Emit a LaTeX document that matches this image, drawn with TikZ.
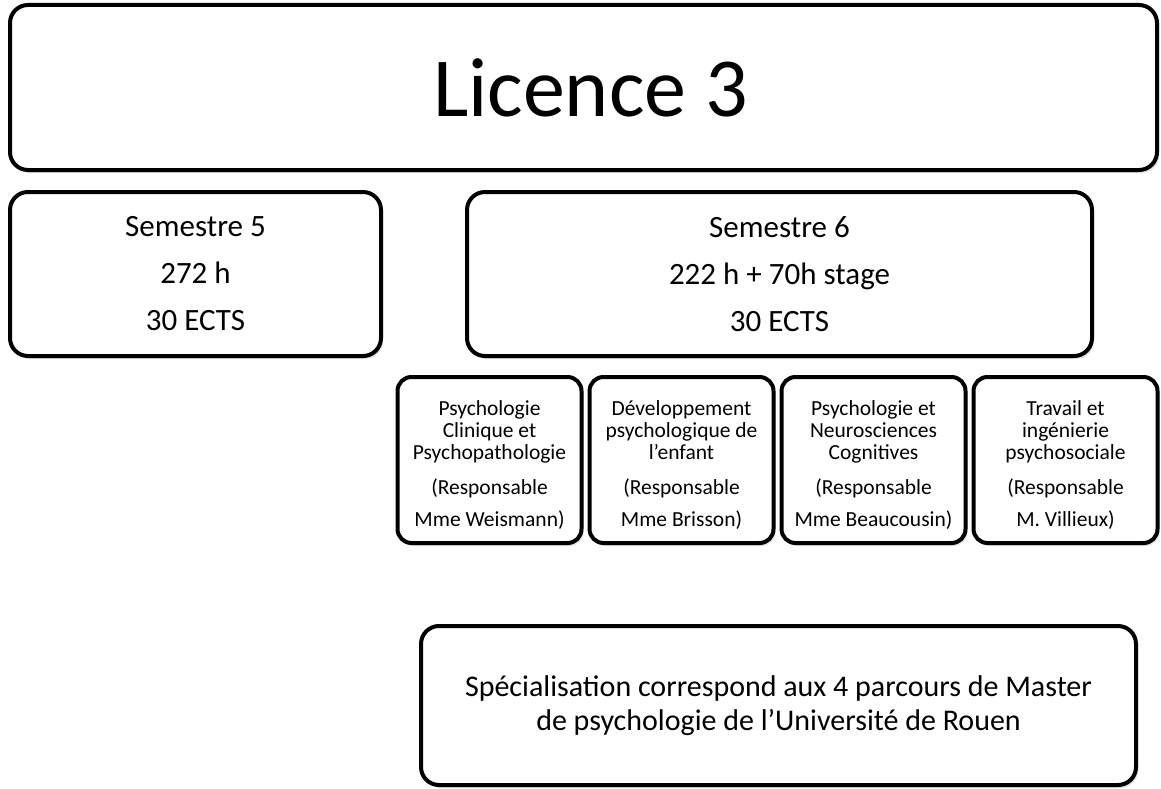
\documentclass[tikz,border=0pt]{standalone}
\usepackage{fontspec}
\setmainfont{Carlito}
\usepackage{tikz}
\usetikzlibrary{positioning}
\usetikzlibrary{shadows}
\tikzset{main node/.style={rectangle,rounded corners=18pt,draw,line width=4pt,fill=white,align=center,inner sep=0pt,drop shadow={shadow xshift=2pt,shadow yshift=-3pt,opacity=0.25}},}
\tikzset{track node/.style={main node,rounded corners=14pt,minimum width=184pt,minimum height=166pt,font=\fontsize{21.5}{22}\selectfont},}

\begin{document}
\begin{tikzpicture}[x=1pt, y=-1pt, node distance=4pt]
	\useasboundingbox (0,0) rectangle (1161,789);
	\node[main node, minimum width=1147pt, minimum height=165pt, font=\fontsize{84}{90}\selectfont] (l3) at (583.5,87.5) {\hspace*{14pt}Licence 3};
	\node[main node, minimum width=371pt, minimum height=164pt, font=\fontsize{31}{32}\selectfont] (s5) at (195.5,274) {Semestre 5\\[15pt]272 h\\[15pt]30 ECTS};
	\node[main node, minimum width=625pt, minimum height=164pt, font=\fontsize{31}{32}\selectfont] (s6) [right = 82pt of s5] {Semestre 6\\[15pt]222 h + 70h stage\\[15pt]30 ECTS};

	\node[track node] (p1) at (489.5,460) {\rule{0pt}{24pt}Psychologie\\Clinique et\\Psychopathologie\\[13pt](Responsable\\[10pt]Mme Weismann)};
	\node[track node] (p2) [right = of p1] {\rule{0pt}{24pt}Développement\\psychologique de\\l’enfant\\[13pt](Responsable\\[10pt]Mme Brisson)};
	\node[track node] (p3) [right = of p2] {\rule{0pt}{24pt}Psychologie et\\Neurosciences\\Cognitives\\[13pt](Responsable\\[10pt]Mme Beaucousin)};
	\node[track node] (p4) [right = of p3] {\rule{0pt}{24pt}Travail et\\ingénierie\\psychosociale\\[13pt](Responsable\\[10pt]M. Villieux)};

	\node[main node, minimum width=715pt, minimum height=159pt, font=\fontsize{30}{34}\selectfont] (mst) at (778.5,705.5) {Spécialisation correspond aux 4 parcours de Master\\de psychologie de l’Université de Rouen};
\end{tikzpicture}
\end{document}
